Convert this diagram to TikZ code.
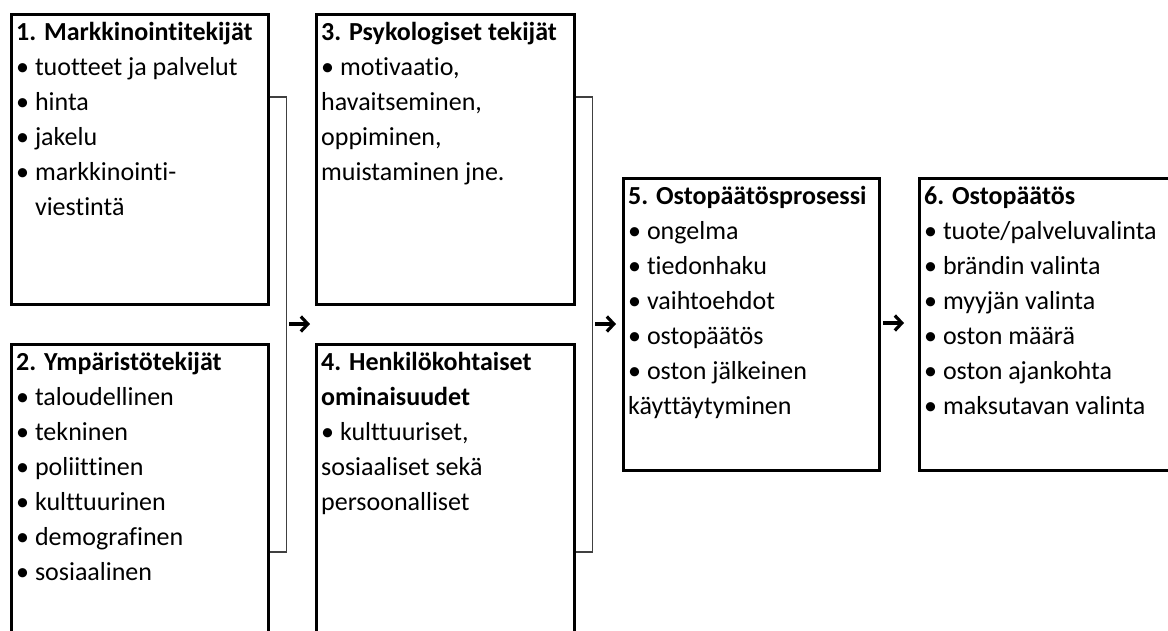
\documentclass[tikz,border=0pt]{standalone}
\usepackage{fontspec}
\setmainfont[RawFeature={-liga}]{Carlito}
\usetikzlibrary{arrows.meta}
\newcommand\bul{\textbullet\ }
\begin{document}
\begin{tikzpicture}[x=1pt, y=-1pt,
    box/.style={draw, line width=2.6pt, anchor=north west, inner sep=0pt},
    txt/.style={anchor=north west, align=left, inner sep=0pt,
                font=\fontsize{26}{35}\selectfont},
    brace/.style={draw=black!75, line width=1.2pt},
    flow/.style={line width=3.2pt, -{Straight Barb[length=7pt,width=15pt]}}
  ]
  \useasboundingbox (0,0) rectangle (1168,630);
  \clip (0,0) rectangle (1168,630);

  % Factors (left column)
  \node[box, minimum width=257pt, minimum height=290pt] (b1) at (10,13) {};
  \node[txt] (t1) at ([xshift=6pt, yshift=-3pt]b1.north west)
    {\strut\textbf{1. Markkinointitekijät}\\
     \bul tuotteet ja palvelut\\
     \bul hinta\\
     \bul jakelu\\
     \bul markkinointi-\\
     \phantom{\bul}viestintä};
  \node[box, minimum width=257pt, minimum height=320pt] (b2) at (10,343) {};
  \node[txt] (t2) at ([xshift=6pt, yshift=-3pt]b2.north west)
    {\strut\textbf{2. Ympäristötekijät}\\
     \bul taloudellinen\\
     \bul tekninen\\
     \bul poliittinen\\
     \bul kulttuurinen\\
     \bul demografinen\\
     \bul sosiaalinen};

  % Factors (middle column)
  \node[box, minimum width=258pt, minimum height=290pt] (b3) at (315,13) {};
  \node[txt] (t3) at ([xshift=6pt, yshift=-3pt]b3.north west)
    {\strut\textbf{3. Psykologiset tekijät}\\
     \bul motivaatio,\\
     havaitseminen,\\
     oppiminen,\\
     muistaminen jne.};
  \node[box, minimum width=258pt, minimum height=320pt] (b4) at (315,343) {};
  \node[txt] (t4) at ([xshift=6pt, yshift=-3pt]b4.north west)
    {\strut\textbf{4. Henkilökohtaiset}\\
     \textbf{ominaisuudet}\\
     \bul kulttuuriset,\\
     sosiaaliset sekä\\
     persoonalliset};

  % Process and decision
  \node[box, minimum width=256pt, minimum height=292pt] (b5) at (622,177) {};
  \node[txt] (t5) at ([xshift=6pt, yshift=-3pt]b5.north west)
    {\strut\textbf{5. Ostopäätösprosessi}\\
     \bul ongelma\\
     \bul tiedonhaku\\
     \bul vaihtoehdot\\
     \bul ostopäätös\\
     \bul oston jälkeinen\\
     käyttäytyminen};
  \node[box, minimum width=280pt, minimum height=292pt] (b6) at (918,177) {};
  \node[txt] (t6) at ([xshift=6pt, yshift=-3pt]b6.north west)
    {\strut\textbf{6. Ostopäätös}\\
     \bul tuote/palveluvalinta\\
     \bul brändin valinta\\
     \bul myyjän valinta\\
     \bul oston määrä\\
     \bul oston ajankohta\\
     \bul maksutavan valinta};

  % Brackets
  \draw[brace] ([yshift=-84pt]b1.north east) -- ++(17,0) |- ([yshift=-209pt]b2.north east);
  \draw[brace] ([yshift=-84pt]b3.north east) -- ++(17,0) |- ([yshift=-209pt]b4.north east);

  % Arrows
  \coordinate (a1s) at (289,324);
  \coordinate (a1e) at (310,324);
  \coordinate (a2s) at (595,324);
  \coordinate (a2e) at (616,324);
  \coordinate (a3s) at (883,323);
  \coordinate (a3e) at (904,323);
  \draw[flow] (a1s) -- (a1e);
  \draw[flow] (a2s) -- (a2e);
  \draw[flow] (a3s) -- (a3e);
\end{tikzpicture}
\end{document}
